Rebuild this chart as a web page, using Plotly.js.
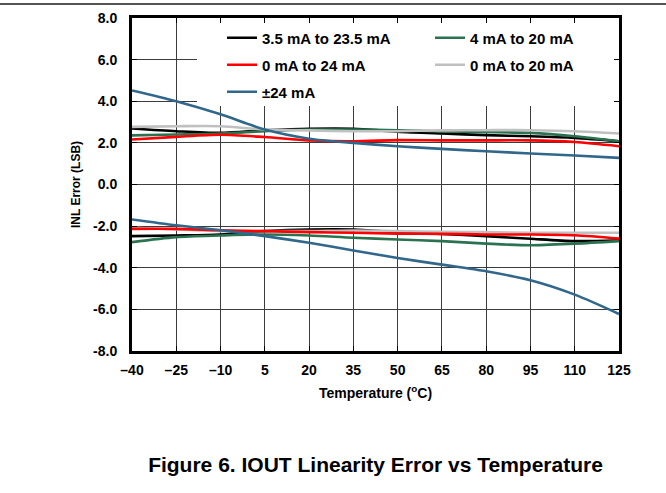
<!DOCTYPE html>
<html>
<head>
<meta charset="utf-8">
<script src="https://cdn.plot.ly/plotly-3.0.1.min.js"></script>
<style>
html,body{margin:0;padding:0;background:#fff;}
#chart{width:666px;height:493px;}
</style>
</head>
<body>
<div id="chart"></div>
<script>
// Temperatures (°C)
const temps = [-40, -25, -10, 5, 20, 35, 50, 65, 80, 95, 110, 125];
const xTickVals = [-40, -25, -10, 5, 20, 35, 50, 65, 80, 95, 110, 125];
const xTickText = ['\u201340', '\u201325', '\u201310', '5', '20', '35', '50', '65', '80', '95', '110', '125'];
const yTickVals = [-8, -6, -4, -2, 0, 2, 4, 6, 8];
const yTickText = ['-8.0', '-6.0', '-4.0', '-2.0', '0.0', '2.0', '4.0', '6.0', '8.0'];

// INL error (LSB), positive (max) and negative (min) curves for each range
const r35to235Max = [2.69, 2.56, 2.48, 2.60, 2.68, 2.68, 2.54, 2.45, 2.37, 2.32, 2.24, 2.08];
const r35to235Min = [-2.48, -2.45, -2.40, -2.24, -2.16, -2.16, -2.29, -2.37, -2.48, -2.61, -2.72, -2.68];
const r4to20Max = [2.36, 2.40, 2.45, 2.56, 2.64, 2.64, 2.61, 2.55, 2.52, 2.48, 2.32, 2.08];
const r4to20Min = [-2.77, -2.53, -2.45, -2.40, -2.45, -2.56, -2.64, -2.72, -2.84, -2.92, -2.84, -2.72];
const r0to24Max = [2.16, 2.29, 2.39, 2.28, 2.12, 2.08, 2.13, 2.12, 2.12, 2.12, 2.04, 1.84];
const r0to24Min = [-2.13, -2.13, -2.20, -2.24, -2.29, -2.32, -2.36, -2.37, -2.40, -2.40, -2.44, -2.60];
const r0to20Max = [2.77, 2.80, 2.80, 2.64, 2.60, 2.56, 2.56, 2.60, 2.61, 2.61, 2.56, 2.45];
const r0to20Min = [-2.08, -2.16, -2.24, -2.24, -2.24, -2.21, -2.24, -2.27, -2.29, -2.32, -2.32, -2.32];
const rPm24Max = [4.52, 4.00, 3.37, 2.64, 2.20, 2.00, 1.84, 1.71, 1.60, 1.49, 1.39, 1.28];
const rPm24Min = [-1.68, -1.96, -2.20, -2.48, -2.80, -3.17, -3.53, -3.85, -4.17, -4.60, -5.29, -6.22];

const seriesNames = ['3.5 mA to 23.5 mA', '4 mA to 20 mA', '0 mA to 24 mA', '0 mA to 20 mA', '\u00b124 mA'];
const seriesColors = ['#000000', '#2b7350', '#ff0000', '#c0c0c0', '#31678a'];
const seriesMax = [r35to235Max, r4to20Max, r0to24Max, r0to20Max, rPm24Max];
const seriesMin = [r35to235Min, r4to20Min, r0to24Min, r0to20Min, rPm24Min];
const legendIds = ['legend', 'legend2', 'legend3', 'legend4', 'legend5'];
const drawOrder = [0, 1, 3, 2, 4];

const FONT = 'Liberation Sans, Arial, sans-serif';
const traces = [];
drawOrder.forEach(function (i) {
  traces.push({
    x: temps, y: seriesMax[i], type: 'scatter', mode: 'lines',
    name: seriesNames[i], legendgroup: 'g' + i, legend: legendIds[i],
    line: {color: seriesColors[i], width: 2.6, shape: 'spline', smoothing: 0.8},
    hoverinfo: 'skip'
  });
  traces.push({
    x: temps, y: seriesMin[i], type: 'scatter', mode: 'lines',
    name: seriesNames[i], legendgroup: 'g' + i, legend: legendIds[i], showlegend: false,
    line: {color: seriesColors[i], width: 2.6, shape: 'spline', smoothing: 0.8},
    hoverinfo: 'skip'
  });
});

const plotL = 132, plotR = 619, plotT = 18, plotB = 351, W = 666, H = 493;
const pw = plotR - plotL, ph = plotB - plotT;
const xMin = -40, xMax = 125, yMin = -8, yMax = 8;
function px2x(p) { return (p - plotL) / pw; }
function px2y(p) { return 1 - (p - plotT) / ph; }
function px2dx(p) { return xMin + (p - plotL) / pw * (xMax - xMin); }
function px2dy(p) { return yMax - (p - plotT) / ph * (yMax - yMin); }

function legendAt(xp, yp) {
  return {
    x: px2x(xp), y: px2y(yp), xanchor: 'left', yanchor: 'middle',
    bgcolor: 'rgba(0,0,0,0)', borderwidth: 0,
    font: {family: FONT, size: 15, weight: 700, color: '#000'},
    tracegroupgap: 0
  };
}

const layout = {
  width: W, height: H,
  margin: {l: plotL, r: W - plotR, t: plotT, b: H - plotB, pad: 0},
  paper_bgcolor: '#fff', plot_bgcolor: '#fff',
  font: {family: FONT, size: 14, weight: 700, color: '#000'},
  title: {
    text: 'Figure 6. IOUT Linearity Error vs Temperature',
    font: {family: FONT, size: 21, weight: 700, color: '#000'},
    xref: 'paper', x: 0.5, xanchor: 'center',
    yref: 'container', y: 1 - 465 / H, yanchor: 'middle'
  },
  xaxis: {
    range: [xMin, xMax], tickmode: 'array', tickvals: xTickVals, ticktext: xTickText,
    showgrid: true, gridcolor: '#3c3c3c', gridwidth: 1, zeroline: false,
    showline: true, linecolor: '#000', linewidth: 3, mirror: 'ticks',
    ticks: 'inside', ticklen: 5, tickwidth: 1, tickcolor: '#000',
    ticklabelstandoff: 4,
    tickfont: {family: FONT, size: 14, weight: 700, color: '#000'},
    title: {text: 'Temperature (<sup>o</sup>C)', font: {family: FONT, size: 14, weight: 700, color: '#000'}, standoff: 12},
    fixedrange: true
  },
  yaxis: {
    range: [yMin, yMax], tickmode: 'array', tickvals: yTickVals, ticktext: yTickText,
    showgrid: true, gridcolor: '#3c3c3c', gridwidth: 1, zeroline: false,
    showline: true, linecolor: '#000', linewidth: 3, mirror: 'ticks',
    ticks: 'inside', ticklen: 5, tickwidth: 1, tickcolor: '#000',
    ticklabelstandoff: 9,
    tickfont: {family: FONT, size: 14, weight: 700, color: '#000'},
    title: {text: 'INL Error (LSB)', font: {family: FONT, size: 12, weight: 700, color: '#000'}, standoff: 10},
    fixedrange: true
  },
  legend: legendAt(222, 38),
  legend2: legendAt(430, 38),
  legend3: legendAt(222, 65),
  legend4: legendAt(430, 65),
  legend5: legendAt(222, 92),
  shapes: [
    {type: 'rect', xref: 'x', yref: 'y', x0: px2dx(197), x1: xMax, y0: px2dy(106), y1: yMax,
     fillcolor: '#ffffff', line: {width: 0}, layer: 'between'},
    {type: 'line', xref: 'paper', yref: 'paper', x0: px2x(0), x1: px2x(W), y0: px2y(4), y1: px2y(4),
     line: {color: '#1a1a1a', width: 1.5}}
  ],
  showlegend: true
};

Plotly.newPlot('chart', traces, layout, {staticPlot: true, displayModeBar: false});
</script>
</body>
</html>
